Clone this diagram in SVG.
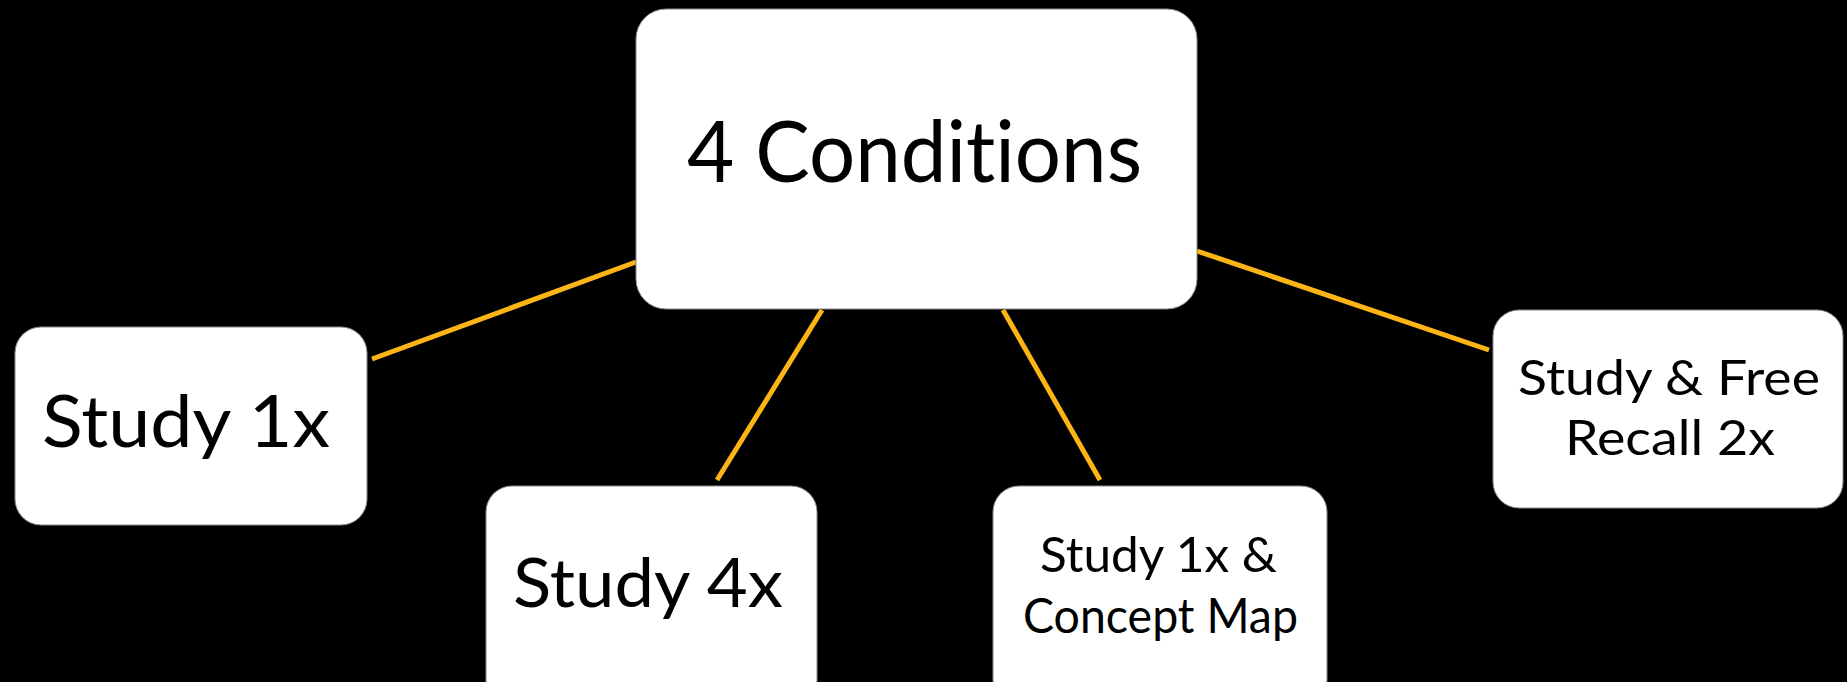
<svg xmlns="http://www.w3.org/2000/svg" width="1847" height="682" viewBox="0 0 1847 682">
<style>
.box{fill:#ffffff;stroke:#8a8a8a;stroke-width:1}
.lbl{font-family:Lato,"Open Sans","Liberation Sans",sans-serif;fill:#000000;text-anchor:start;font-variant-ligatures:none;font-feature-settings:"liga" 0}
.con{stroke:#FDB515;stroke-width:5;stroke-linecap:butt;fill:none}
</style>
<rect x="0" y="0" width="1847" height="682" fill="#000000"/>
<g id="connectors">
<line class="con" x1="372" y1="359" x2="636" y2="262"/>
<line class="con" x1="717" y1="480" x2="822" y2="310"/>
<line class="con" x1="1003" y1="310" x2="1100" y2="480"/>
<line class="con" x1="1197" y1="251" x2="1489" y2="350"/>
</g>
<g id="conditions">
<rect class="box" x="636" y="9" width="561" height="300" rx="30"/>
<text class="lbl" x="687" y="182" font-size="86" textLength="455" lengthAdjust="spacingAndGlyphs">4 Conditions</text>
</g>
<g id="study1x">
<rect class="box" x="15" y="327" width="352" height="198" rx="26"/>
<text class="lbl" x="42" y="447" font-size="72" textLength="288" lengthAdjust="spacingAndGlyphs">Study 1x</text>
</g>
<g id="study4x">
<rect class="box" x="486" y="486" width="331" height="220" rx="26"/>
<text class="lbl" x="513" y="607" font-size="68" textLength="270" lengthAdjust="spacingAndGlyphs">Study 4x</text>
</g>
<g id="conceptmap">
<rect class="box" x="993" y="486" width="334" height="220" rx="26"/>
<text class="lbl" x="1040" y="572" font-size="48" textLength="237" lengthAdjust="spacingAndGlyphs">Study 1x &amp;</text>
<text class="lbl" x="1023" y="633" font-size="48" textLength="275" lengthAdjust="spacingAndGlyphs">Concept Map</text>
</g>
<g id="freerecall">
<rect class="box" x="1493" y="310" width="350" height="198" rx="26"/>
<text class="lbl" x="1518" y="395" font-size="49" textLength="302" lengthAdjust="spacingAndGlyphs">Study &amp; Free</text>
<text class="lbl" x="1565" y="455" font-size="49" textLength="210" lengthAdjust="spacingAndGlyphs">Recall 2x</text>
</g>
</svg>
